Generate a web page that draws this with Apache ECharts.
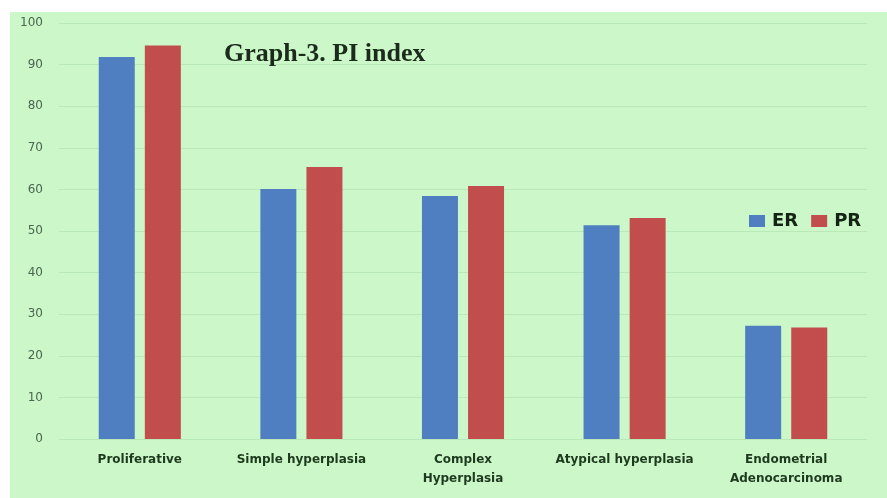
<!DOCTYPE html>
<html>
<head>
<meta charset="utf-8">
<script src="https://cdn.jsdelivr.net/npm/echarts@6/dist/echarts.min.js"></script>
<style>
html,body{margin:0;padding:0;background:#fff;}
#chart{width:887px;height:498px;}
</style>
</head>
<body>
<div id="chart"></div>
<script>
const categories = ['Proliferative', 'Simple hyperplasia', 'Complex\nHyperplasia', 'Atypical hyperplasia', 'Endometrial\nAdenocarcinoma'];
const erValues = [91.8, 60.1, 58.4, 51.4, 27.2];
const prValues = [94.6, 65.4, 60.8, 53.1, 26.8];
const yTicks = { min: 0, max: 100, interval: 10 };

const chart = echarts.init(document.getElementById('chart'));
chart.setOption({
  animation: false,
  backgroundColor: '#ffffff',
  graphic: {
    z: -10,
    elements: [{
      type: 'rect', silent: true, z: -10,
      shape: { x: 10, y: 12, width: 877, height: 486 },
      style: { fill: '#ccf7c8' }
    }]
  },
  title: {
    text: 'Graph-3. PI index',
    left: 219, top: 36,
    textStyle: { fontFamily: 'Liberation Serif', fontWeight: 'bold', fontSize: 26, color: '#1b2a1b' }
  },
  legend: {
    data: ['ER', 'PR'],
    left: 744, top: 207,
    itemWidth: 16, itemHeight: 12, itemGap: 13,
    icon: 'rect',
    textStyle: { fontFamily: 'DejaVu Sans', fontWeight: 'bold', fontSize: 18, color: '#142414', padding: [0, 0, 0, 2] }
  },
  grid: { left: 59, right: 20, top: 23, bottom: 59 },
  xAxis: {
    type: 'category',
    data: categories,
    axisLine: { show: false },
    axisTick: { show: false },
    axisLabel: {
      margin: 11, interval: 0,
      fontFamily: 'DejaVu Sans', fontWeight: 'bold', fontSize: 12, color: '#1e3a1e', lineHeight: 19
    }
  },
  yAxis: {
    type: 'value',
    min: yTicks.min, max: yTicks.max, interval: yTicks.interval,
    axisLine: { show: false },
    axisTick: { show: false },
    splitLine: { lineStyle: { color: 'rgba(150,205,150,0.35)', width: 1 } },
    axisLabel: { margin: 16, fontFamily: 'DejaVu Sans', fontSize: 12, color: '#4a6650' }
  },
  series: [
    { name: 'ER', type: 'bar', data: erValues, barWidth: 36, barGap: '28%', itemStyle: { color: '#4f7fc1' } },
    { name: 'PR', type: 'bar', data: prValues, barWidth: 36, itemStyle: { color: '#c24d4d' } }
  ]
});
</script>
</body>
</html>
